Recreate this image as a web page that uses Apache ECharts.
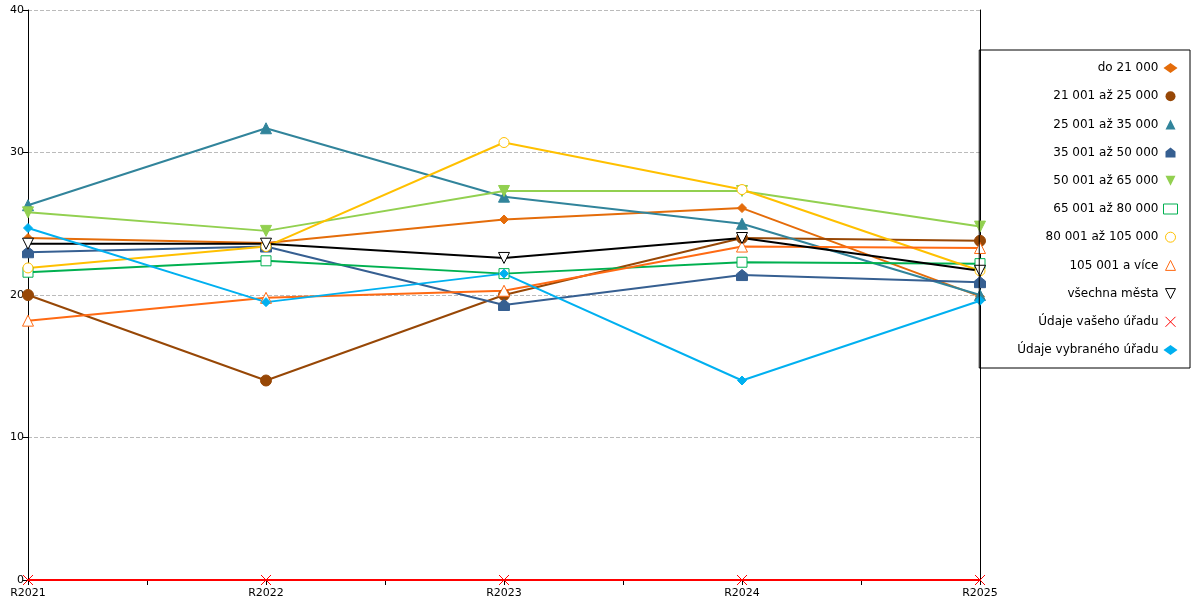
<!DOCTYPE html><html><head><meta charset="utf-8"><script src="https://cdn.jsdelivr.net/npm/echarts@6/dist/echarts.min.js"></script></head><body style="margin:0"><div id="c" style="width:1200px;height:600px"></div><script>
const categories=['R2021','R2022','R2023','R2024','R2025'];
const names=['do 21 000','21 001 až 25 000','25 001 až 35 000','35 001 až 50 000','50 001 až 65 000','65 001 až 80 000','80 001 až 105 000','105 001 a více','všechna města','Údaje vašeho úřadu','Údaje vybraného úřadu'];
const s0=[24.0,23.65,25.3,26.1,19.9];
const s1=[20.0,14.0,20.0,24.0,23.8];
const s2=[26.3,31.7,26.9,25.0,20.0];
const s3=[23.0,23.4,19.3,21.4,20.9];
const s4=[25.8,24.5,27.3,27.3,24.8];
const s5=[21.6,22.4,21.5,22.3,22.2];
const s6=[21.9,23.4,30.7,27.4,21.7];
const s7=[18.2,19.8,20.3,23.4,23.3];
const s8=[23.6,23.6,22.6,24.0,21.7];
const s9=[0,0,0,0,0];
const s10=[24.7,19.5,21.5,14.0,19.6];
const vals=[s0,s1,s2,s3,s4,s5,s6,s7,s8,s9,s10];
const colors=['#E46C0A','#974706','#31849B','#365F91','#92D050','#00B050','#FFC000','#FF6A13','#000000','#FF0000','#00B0F0'];
const tri='path://M5,0L10,10L0,10Z', itri='path://M0,0L10,0L5,10Z';
const house='path://M5,0L10,4L10,10L0,10L0,4Z';
const xs='path://M0,0L10,10M10,0L0,10';
const syms=['diamond','circle',tri,house,itri,'rect','circle',tri,itri,xs,'diamond'];
const hollow=[false,false,false,false,false,true,true,true,true,true,false];
const sizes=[9,11,11,11,11,10,10,11,11,10,9];
const series=names.map((n,i)=>({name:n,type:'line',data:vals[i].map((v,j)=>[j,v]),symbol:syms[i],symbolSize:sizes[i],
 lineStyle:{color:colors[i],width:2},
 itemStyle:hollow[i]?{color:'#fff',borderColor:colors[i],borderWidth:1}:{color:colors[i],borderColor:colors[i]},z:i===9?5:2}));
const ch=echarts.init(document.getElementById('c'));
ch.setOption({animation:false,textStyle:{fontFamily:'DejaVu Sans'},
grid:{left:28,right:220,top:10,bottom:20},
xAxis:{type:'value',min:0,max:4,interval:0.5,axisLine:{lineStyle:{color:'#000'}},axisTick:{length:5,lineStyle:{color:'#000'}},splitLine:{show:false},
 axisLabel:{color:'#000',fontSize:11,formatter:v=>Number.isInteger(v)?categories[v]:''}},
yAxis:[{type:'value',min:0,max:40,interval:10,axisLine:{show:true,lineStyle:{color:'#000'}},axisTick:{show:true,length:5,inside:false,lineStyle:{color:'#000'}},
 axisLabel:{color:'#000',fontSize:11,margin:4},splitLine:{lineStyle:{color:'#bbb',type:'dashed'}}},
 {type:'value',position:'right',min:0,max:40,interval:10,axisLine:{show:true,lineStyle:{color:'#000'}},axisTick:{show:false},axisLabel:{show:false},splitLine:{show:false}}],
legend:{orient:'vertical',right:10,top:50,width:160,align:'right',itemGap:16.2,itemWidth:14,itemHeight:10,padding:[12,12,12,38],
 borderColor:'#000',borderWidth:1,textStyle:{color:'#000',fontSize:12},
 data:names.map((n,i)=>({name:n,icon:syms[i],itemStyle:hollow[i]?{color:'#fff',borderColor:colors[i],borderWidth:1}:{color:colors[i]}})) ,
 itemStyle:{borderWidth:0},lineStyle:{width:0}},
series});
</script></body></html>
